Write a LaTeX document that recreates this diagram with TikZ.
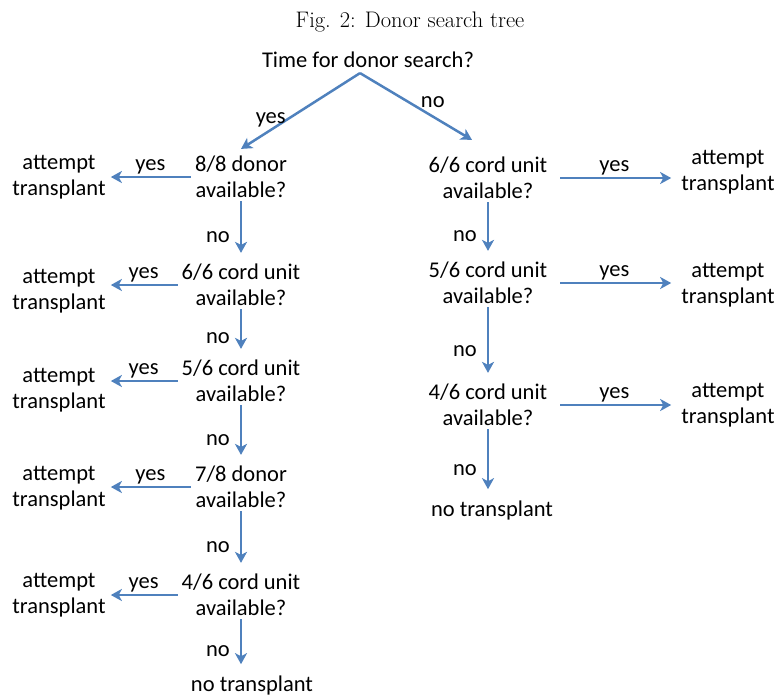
\documentclass[tikz,border=0pt]{standalone}
\usepackage{fontspec}
\usetikzlibrary{arrows.meta}
\newfontfamily\calfont{Carlito}
\definecolor{arrblue}{RGB}{79,129,189}

\begin{document}
\begin{tikzpicture}[x=1pt,y=-1pt,
  txt/.style={font=\calfont\fontsize{22.5}{26}\selectfont,align=center,inner sep=3pt},
  arr/.style={draw=arrblue,line width=2.5pt,-{Stealth[length=11pt,width=12pt,inset=3pt]}},
  down/.style={arr,shorten >=8pt},
  side/.style={arr,shorten <=1pt,shorten >=2pt},
  rside/.style={arr,shorten <=10pt,shorten >=7pt},
  lbl/.style={font=\calfont\fontsize{22.5}{26}\selectfont,inner sep=2pt}]
\useasboundingbox (0,0) rectangle (777,697);
\node[font=\fontsize{22.5}{26}\selectfont] (title) at (410,22) {Fig. 2: Donor search tree};
\node[txt] (top) at (368,60) {Time for donor search?};
% left branch
\node[txt] (q1) at (241,177) {8/8 donor\\available?};
\node[txt] (q2) at (241,285) {6/6 cord unit\\available?};
\node[txt] (q3) at (241,381) {5/6 cord unit\\available?};
\node[txt] (q4) at (241,487) {7/8 donor\\available?};
\node[txt] (q5) at (241,595) {4/6 cord unit\\available?};
\node[txt] (n1) at (252,685) {no transplant};
\node[txt] (a1) at (59,177) {attempt\\transplant};
\node[txt] (a2) at (59,291) {attempt\\transplant};
\node[txt] (a3) at (59,390) {attempt\\transplant};
\node[txt] (a4) at (59,488) {attempt\\transplant};
\node[txt] (a5) at (59,595) {attempt\\transplant};
% right branch
\node[txt] (r1) at (488,178) {6/6 cord unit\\available?};
\node[txt] (r2) at (488,283) {5/6 cord unit\\available?};
\node[txt] (r3) at (488,405) {4/6 cord unit\\available?};
\node[txt] (n2) at (492,510) {no transplant};
\node[txt] (b1) at (728,172) {attempt\\transplant};
\node[txt] (b2) at (728,285) {attempt\\transplant};
\node[txt] (b3) at (728,405) {attempt\\transplant};
\path ([xshift=-8pt,yshift=-2pt]top.south) edge[arr] node[lbl,above,pos=0.75] {yes} ([yshift=4pt]q1.north);
\path ([xshift=-8pt,yshift=-2pt]top.south) edge[arr] node[lbl,above=6pt,pos=0.65] {no} ([xshift=-16pt,yshift=14pt]r1.north);
\path (q1.west) edge[side] node[lbl,above] {yes} (q1.west -| a1.east);
\path (q2.west) edge[side] node[lbl,above] {yes} (q2.west -| a2.east);
\path (q3.west) edge[side] node[lbl,above] {yes} (q3.west -| a3.east);
\path (q4.west) edge[side] node[lbl,above] {yes} (q4.west -| a4.east);
\path (q5.west) edge[side] node[lbl,above] {yes} (q5.west -| a5.east);
\path (q1.south) edge[down] node[lbl,left=8pt,pos=0.6] {no} (q2.north);
\path (q2.south) edge[down] node[lbl,left=8pt,pos=0.6] {no} (q3.north);
\path (q3.south) edge[down] node[lbl,left=8pt,pos=0.6] {no} (q4.north);
\path (q4.south) edge[down] node[lbl,left=8pt,pos=0.6] {no} (q5.north);
\path (q5.south) edge[down] node[lbl,left=8pt,pos=0.6] {no} (q5.south |- n1.north);
\path (r1.east) edge[rside] node[lbl,above] {yes} (r1.east -| b1.west);
\path (r2.east) edge[rside] node[lbl,above] {yes} (r2.east -| b2.west);
\path (r3.east) edge[rside] node[lbl,above] {yes} (r3.east -| b3.west);
\path (r1.south) edge[down] node[lbl,left=8pt,pos=0.6] {no} (r2.north);
\path (r2.south) edge[down] node[lbl,left=8pt,pos=0.6] {no} (r3.north);
\path (r3.south) edge[down] node[lbl,left=8pt,pos=0.6] {no} (r3.south |- n2.north);
\end{tikzpicture}
\end{document}
